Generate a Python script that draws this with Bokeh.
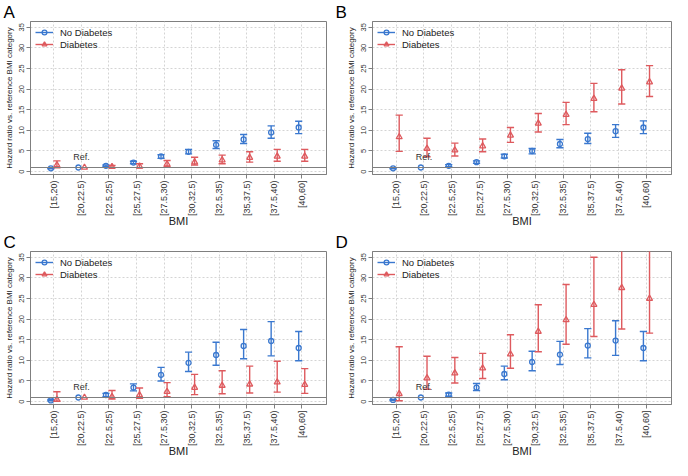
import numpy as np
from bokeh.plotting import figure
from bokeh.models import (ColumnDataSource, FixedTicker, Span, Label, Legend,
                          LegendItem, Range1d)
from bokeh.layouts import gridplot
from bokeh.embed import file_html
from bokeh.resources import INLINE

nan = float("nan")

BMI_CATS = ["[15,20)", "[20,22.5)", "[22.5,25)", "[25,27.5)", "[27.5,30)",
            "[30,32.5)", "[32.5,35)", "[35,37.5)", "[37.5,40)", "[40,60]"]
REF_CAT = "[20,22.5)"
REF_HR = 1.0
Y_TICKS = [0, 5, 10, 15, 20, 25, 30, 35]
SERIES = ["No Diabetes", "Diabetes"]

# Panel A
A_NODIAB_HR = [0.8, 1.0, 1.4, 2.2, 3.7, 4.8, 6.5, 7.8, 9.5, 10.7]
A_NODIAB_LO = [0.7, nan, 1.2, 1.9, 3.2, 4.3, 5.6, 6.8, 8.1, 9.2]
A_NODIAB_HI = [0.9, nan, 1.6, 2.5, 4.1, 5.4, 7.5, 9.0, 11.1, 12.2]
A_DIAB_HR = [1.6, 1.0, 1.2, 1.3, 1.8, 2.3, 2.8, 3.4, 3.7, 3.7]
A_DIAB_LO = [0.9, nan, 0.9, 0.9, 1.2, 1.6, 1.9, 2.3, 2.5, 2.5]
A_DIAB_HI = [2.6, nan, 1.5, 1.9, 2.7, 3.5, 4.0, 4.8, 5.4, 5.4]

# Panel B
B_NODIAB_HR = [0.8, 1.0, 1.4, 2.3, 3.7, 5.0, 6.7, 7.9, 9.8, 10.7]
B_NODIAB_LO = [0.7, nan, 1.2, 2.0, 3.3, 4.3, 5.8, 6.8, 8.3, 9.2]
B_NODIAB_HI = [0.9, nan, 1.7, 2.6, 4.2, 5.6, 7.8, 9.3, 11.4, 12.3]
B_DIAB_HR = [8.4, 5.6, 5.2, 6.2, 8.8, 11.7, 13.8, 17.7, 20.2, 21.7]
B_DIAB_LO = [4.9, 3.6, 3.8, 4.8, 7.1, 9.6, 11.4, 14.5, 16.4, 18.2]
B_DIAB_HI = [13.7, 8.1, 6.9, 7.9, 10.7, 14.1, 16.8, 21.4, 24.7, 25.7]

# Panel C
C_NODIAB_HR = [0.3, 1.0, 1.6, 3.4, 6.5, 9.4, 11.3, 13.5, 14.7, 13.0]
C_NODIAB_LO = [0.2, nan, 1.2, 2.6, 5.0, 7.3, 8.8, 10.4, 11.1, 9.9]
C_NODIAB_HI = [0.5, nan, 2.0, 4.3, 8.3, 12.0, 14.4, 17.5, 19.4, 17.0]
C_DIAB_HR = [0.5, 1.0, 1.2, 1.6, 2.4, 3.4, 3.9, 4.2, 4.7, 4.1]
C_DIAB_LO = [0.1, nan, 0.6, 0.8, 1.2, 1.7, 1.9, 2.1, 2.3, 2.0]
C_DIAB_HI = [2.4, nan, 2.7, 3.3, 4.6, 6.6, 7.5, 8.6, 9.8, 8.0]

# Panel D
D_NODIAB_HR = [0.4, 1.0, 1.7, 3.4, 6.7, 9.6, 11.4, 13.6, 14.8, 13.0]
D_NODIAB_LO = [0.3, nan, 1.3, 2.7, 5.3, 7.5, 9.0, 10.6, 11.2, 9.9]
D_NODIAB_HI = [0.5, nan, 2.1, 4.4, 8.6, 12.2, 14.6, 17.7, 19.6, 17.0]
D_DIAB_HR = [1.9, 5.7, 6.9, 8.1, 11.5, 17.0, 19.8, 23.5, 27.6, 25.0]
D_DIAB_LO = [0.2, 3.0, 4.5, 5.6, 8.1, 12.1, 13.9, 15.8, 17.6, 16.6]
D_DIAB_HI = [13.3, 11.0, 10.7, 11.7, 16.2, 23.5, 28.4, 35.0, 42.0, 38.0]

BLUE = "#3A78CF"
RED = "#DE5A5E"
GRAY = "#7f7f7f"
FONT = "Liberation Sans"
DODGE = 0.11
CAP = 0.13


def series_source(hr, lo, hi, dodge):
    xs = np.arange(1, len(BMI_CATS) + 1) + dodge
    return ColumnDataSource(dict(
        x=xs, hr=hr, lo=lo, hi=hi,
        xl=xs - CAP, xr=xs + CAP,
    ))


def make_panel(letter, nd, dd, width, height, bl, br, bt, bb):
    n = len(BMI_CATS)
    p = figure(width=width, height=height,
               x_range=Range1d(1 - 0.85, n + 0.9),
               y_range=Range1d(-0.7, 36.4),
               output_backend="svg", toolbar_location=None,
               min_border_left=bl, min_border_right=br,
               min_border_top=bt, min_border_bottom=bb,
               title=letter)
    p.title.text_font = FONT
    p.title.text_font_size = "17px"
    p.title.text_font_style = "normal"
    p.title.text_color = "black"
    p.title.align = "left"
    p.title.offset = -(bl - 3)
    p.title.standoff = 0
    p.background_fill_color = "white"
    p.border_fill_color = "white"
    p.outline_line_color = GRAY
    p.outline_line_width = 1

    xt = list(range(1, n + 1))
    p.xaxis.ticker = FixedTicker(ticks=xt)
    p.xaxis.major_label_overrides = {i: c for i, c in zip(xt, BMI_CATS)}
    p.xaxis.major_label_orientation = np.pi / 2
    p.yaxis.ticker = FixedTicker(ticks=Y_TICKS)
    p.yaxis.major_label_orientation = "vertical"
    p.xaxis.axis_label = "BMI"
    p.yaxis.axis_label = "Hazard ratio vs. reference BMI category"
    for ax in (p.xaxis, p.yaxis):
        ax.axis_line_color = GRAY
        ax.major_tick_line_color = GRAY
        ax.minor_tick_line_color = None
        ax.major_tick_out = 4
        ax.major_tick_in = 0
        ax.major_label_text_font = FONT
        ax.major_label_text_color = "#333333"
        ax.axis_label_text_font = FONT
        ax.axis_label_text_font_style = "normal"
        ax.axis_label_text_color = "#222222"
        ax.major_label_standoff = 2
    p.xaxis.major_label_text_font_size = "9px"
    p.yaxis.major_label_text_font_size = "7.5px"
    p.xaxis.axis_label_text_font_size = "11px"
    p.yaxis.axis_label_text_font_size = "8px"
    p.xaxis.axis_label_standoff = -4
    p.yaxis.axis_label_standoff = 3

    for g in (p.xgrid, p.ygrid):
        g.grid_line_color = "#d4d4d4"
        g.grid_line_dash = "2 2"
        g.grid_line_width = 1
    p.ygrid.ticker = FixedTicker(ticks=Y_TICKS)

    p.add_layout(Span(location=REF_HR, dimension="width",
                      line_color=GRAY, line_width=1.2))

    legend_items = []
    for (hr, lo, hi), dodge, color, marker, size, name in (
            (nd, -DODGE, BLUE, "circle", 5, SERIES[0]),
            (dd, DODGE, RED, "triangle", 6, SERIES[1])):
        src = series_source(hr, lo, hi, dodge)
        p.segment("x", "lo", "x", "hi", source=src, line_color=color,
                  line_width=1.4)
        p.segment("xl", "hi", "xr", "hi", source=src, line_color=color,
                  line_width=1.4)
        p.segment("xl", "lo", "xr", "lo", source=src, line_color=color,
                  line_width=1.4)
        s = p.scatter("x", "hr", source=src, marker=marker, size=size,
                      line_color=color, fill_alpha=0, line_width=1.3)
        ln = p.line("x", "hr", source=src, line_color=color,
                    line_width=1.4, visible=False)
        legend_items.append(LegendItem(label=name, renderers=[ln, s]))

    legend = Legend(items=legend_items, location="top_left")
    legend.background_fill_alpha = 0
    legend.border_line_alpha = 0
    legend.margin = 2
    legend.padding = 3
    legend.spacing = 0
    legend.label_height = 12
    legend.glyph_height = 12
    legend.glyph_width = 18
    legend.label_standoff = 7
    legend.label_text_font = FONT
    legend.label_text_font_size = "9.5px"
    legend.label_text_color = "#222222"
    p.add_layout(legend)

    ref_x = BMI_CATS.index(REF_CAT) + 1
    p.add_layout(Label(x=ref_x, y=REF_HR, y_offset=5, text="Ref.",
                       text_align="center", text_baseline="bottom",
                       text_font=FONT, text_font_size="9px",
                       text_color="#333333"))
    return p


pA = make_panel("A", (A_NODIAB_HR, A_NODIAB_LO, A_NODIAB_HI),
                (A_DIAB_HR, A_DIAB_LO, A_DIAB_HI), 332, 230, 30, 6, 0, 40)
pB = make_panel("B", (B_NODIAB_HR, B_NODIAB_LO, B_NODIAB_HI),
                (B_DIAB_HR, B_DIAB_LO, B_DIAB_HI), 340, 230, 40, 1, 0, 40)
pC = make_panel("C", (C_NODIAB_HR, C_NODIAB_LO, C_NODIAB_HI),
                (C_DIAB_HR, C_DIAB_LO, C_DIAB_HI), 332, 230, 30, 6, 0, 40)
pD = make_panel("D", (D_NODIAB_HR, D_NODIAB_LO, D_NODIAB_HI),
                (D_DIAB_HR, D_DIAB_LO, D_DIAB_HI), 340, 230, 40, 1, 0, 40)

grid = gridplot([[pA, pB], [pC, pD]], toolbar_location=None)

open("out.html", "w").write(file_html(grid, INLINE))
